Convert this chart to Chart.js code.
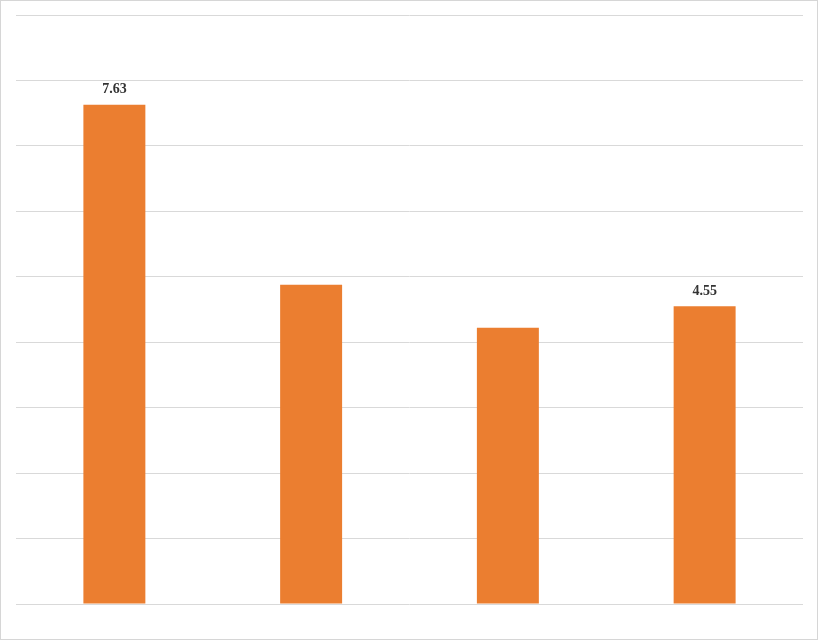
<!DOCTYPE html>
<html>
<head>
<meta charset="utf-8">
<script src="https://cdn.jsdelivr.net/npm/chart.js@4/dist/chart.umd.min.js"></script>
<style>
  html,body{margin:0;padding:0;background:#fff}
  #wrap{width:818px;height:640px;box-sizing:border-box;border:1px solid #d6d6d6;position:relative}
</style>
</head>
<body>
<div id="wrap"><canvas id="c" width="816" height="638"></canvas></div>
<script>
const categories = ['A', 'B', 'C', 'D']
const values = [7.63, 4.88, 4.22, 4.55]
const valueLabels = ['7.63', '', '', '4.55']
const yTicks = [0, 1, 2, 3, 4, 5, 6, 7, 8, 9]

// draws the value text above each bar (only where a label is given)
const 数值标签 = {
  id: 'valueLabels',
  afterDatasetsDraw(chart){
    const ctx = chart.ctx
    const meta = chart.getDatasetMeta(0)
    ctx.save()
    ctx.font = 'bold 14px "Liberation Serif", "DejaVu Serif", serif'
    ctx.fillStyle = '#333'
    ctx.textAlign = 'center'
    ctx.textBaseline = 'bottom'
    meta.data.forEach((bar, i)=>{
      if(!valueLabels[i]) return
      ctx.fillText(valueLabels[i], bar.x, bar.y - 8)
    })
    ctx.restore()
  }
}

new Chart(document.getElementById('c'), {
  type: 'bar',
  data: {
    labels: categories,
    datasets: [{
      data: values,
      backgroundColor: '#EB7E30',
      barPercentage: 0.315,
      categoryPercentage: 1
    }]
  },
  options: {
    responsive: false,
    animation: false,
    layout: {padding: {left: 15, right: 14, top: 14, bottom: 27}},
    plugins: {legend: {display: false}, tooltip: {enabled: false}},
    scales: {
      x: {
        grid: {display: false},
        border: {display: false},
        ticks: {display: false}
      },
      y: {
        min: 0,
        max: 9,
        afterBuildTicks: axis => { axis.ticks = yTicks.map(v=>({value: v})) },
        grid: {color: '#d9d9d9', lineWidth: 1, drawTicks: false},
        border: {display: false},
        ticks: {display: false}
      }
    }
  },
  plugins: [数值标签]
})
</script>
</body>
</html>
